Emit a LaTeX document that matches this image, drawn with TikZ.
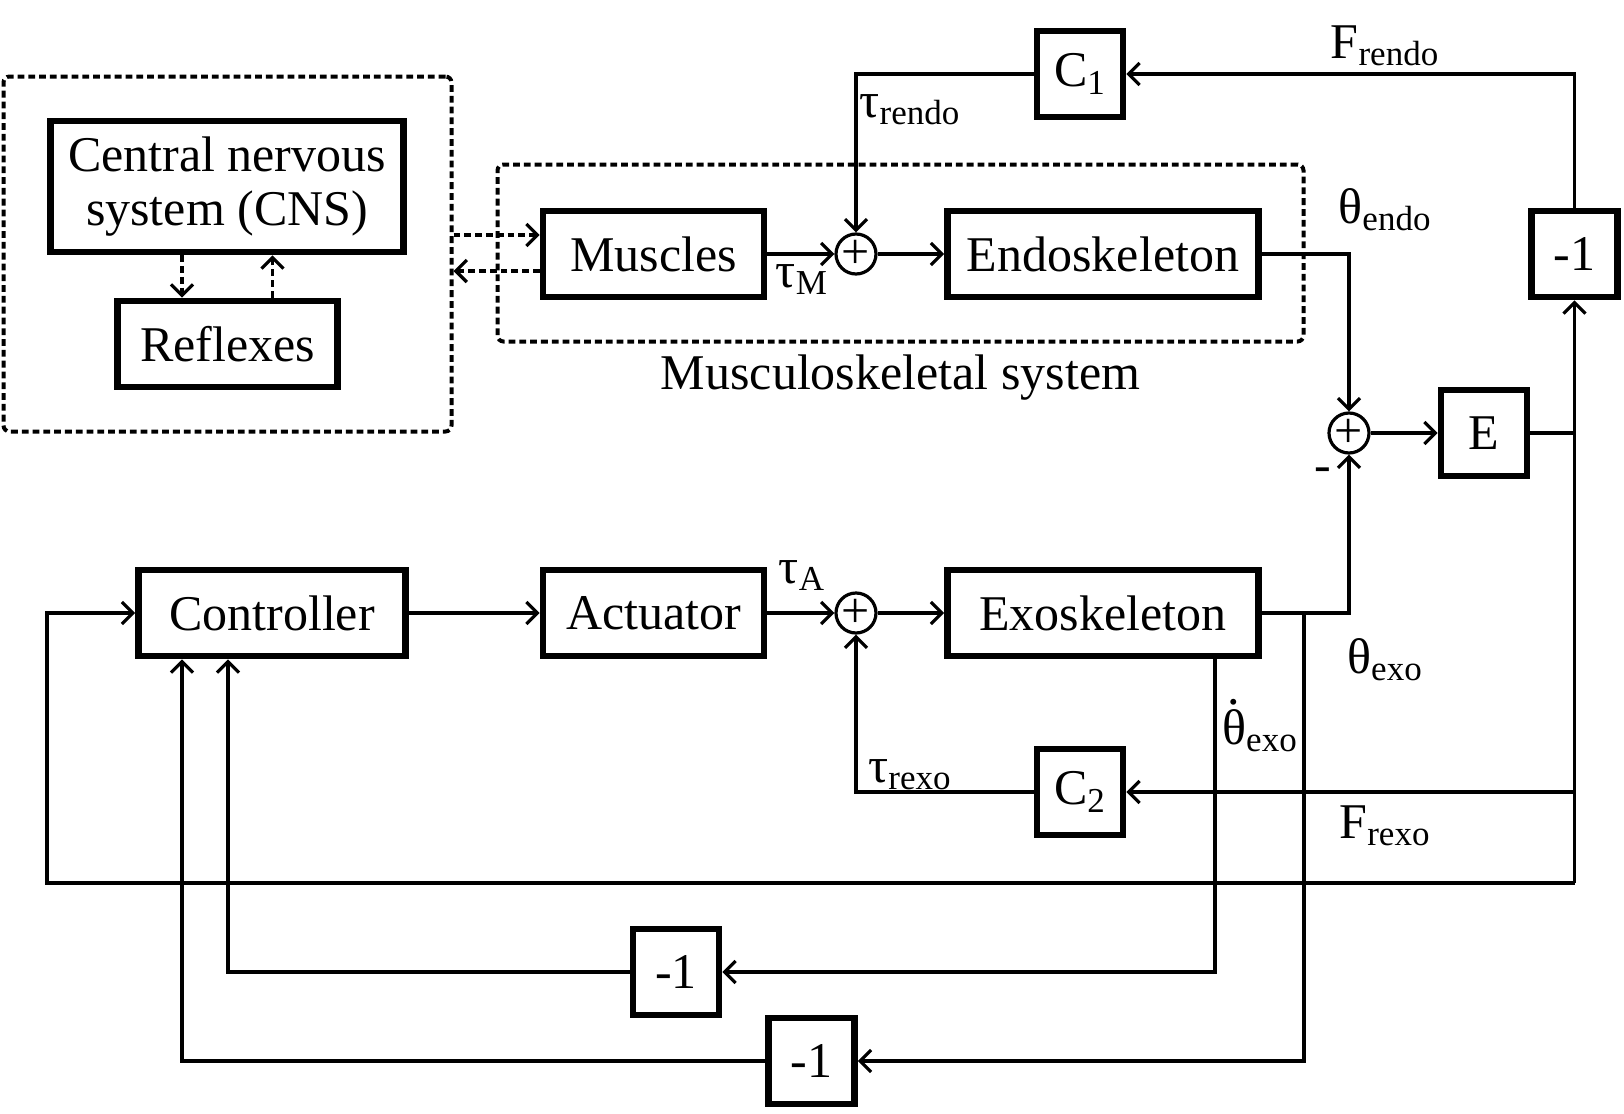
\documentclass[tikz,border=0pt]{standalone}
\usepackage{fontspec}
\setmainfont{Liberation Serif}
\usetikzlibrary{arrows.meta, positioning}
\newcommand{\blkfont}{\fontsize{25pt}{29pt}\selectfont}
\newcommand{\thdot}{\ooalign{θ\cr\hidewidth\raisebox{0.8em}{.}\hidewidth\cr}}
\tikzset{
  blk/.style={draw, line width=3.3pt, minimum height=43pt, inner sep=0pt, align=center},
  gain/.style={blk, minimum width=43pt},
  sumpt/.style={circle, draw, line width=1.6pt, minimum size=20pt, inner sep=0pt},
  grp/.style={draw, line width=2pt, dash pattern=on 3.4pt off 2pt, rounded corners=3pt},
  sig/.style={line width=1.6pt},
  flow/.style={sig, -{Straight Barb[length=5.5pt, width=11pt]}},
  dflow/.style={flow, dash pattern=on 3.4pt off 2pt},
  lbl/.style={inner sep=0pt, anchor=base},
}

\begin{document}
\begin{tikzpicture}[x=0.5pt, y=-0.5pt, font=\blkfont]
\useasboundingbox (0,0) rectangle (1624,1114);
\node[grp, minimum width=224pt, minimum height=177.5pt] (cnsgrp) at (227.5,254) {};
\node[grp, minimum width=403pt, minimum height=88.5pt] (msgrp) at (900.5,253) {};
\node[inner sep=0pt, below=5.5pt of msgrp] (mslbl) {Musculoskeletal system};
\node[blk, minimum width=176.5pt, minimum height=65.5pt] (cns) at (227,186.5) {\raisebox{-2pt}{Central nervous}\\system (CNS)};
\node[blk, minimum width=110pt] (refl) at (227.5,344) {Reflexes};
\node[blk, minimum width=110.5pt] (musc) at (653.5,254) {Muscles};
\node[sumpt] (s1) at (856,254) {+};
\node[blk, minimum width=155.5pt] (endo) at (1103,254) {Endoskeleton};
\node[gain] (c1) at (1080,74) {C\textsubscript{1}};
\node[gain] (m1) at (1574.5,254) {-1};
\node[sumpt] (s2) at (1349,433) {+};
\node[gain] (e) at (1484,433) {E};
\node[blk, minimum width=133.5pt] (ctrl) at (272,613) {Controller};
\node[blk, minimum width=110.5pt] (act) at (653.5,613) {Actuator};
\node[sumpt] (s3) at (856,613) {+};
\node[blk, minimum width=155.5pt] (exo) at (1103,613) {Exoskeleton};
\node[gain] (c2) at (1080,792) {C\textsubscript{2}};
\node[gain] (m2) at (676,972) {-1};
\node[gain] (m3) at (811.5,1061) {-1};
\coordinate (tap) at (1304,613);
\coordinate (busr) at (1574.5,883);
\coordinate (busl) at (47,883);
\coordinate (din) at ([yshift=9.5pt]musc.west);
\coordinate (dout) at ([yshift=-8.5pt]musc.west);
\draw[dflow] ([xshift=-22.5pt]cns.south) -- ([xshift=-22.5pt]cns.south |- refl.north);
\draw[dflow] ([xshift=22.5pt]refl.north) -- ([xshift=22.5pt]refl.north |- cns.south);
\draw[dflow] (din -| cnsgrp.east) -- (din);
\draw[dflow] (dout) -- (dout -| cnsgrp.east);
\draw[flow] (musc) -- (s1);
\draw[flow] (s1) -- (endo);
\draw[flow] (c1.west) -| (s1.north);
\draw[flow] (m1.north) |- (c1.east);
\draw[flow] (endo.east) -| (s2.north);
\draw[flow] (s2) -- (e);
\draw[flow] (e.east) -| (m1.south);
\draw[sig] (e.east -| m1.south) -- (busr);
\draw[flow] (busr) -- (busl) |- (ctrl.west);
\draw[flow] (ctrl) -- (act);
\draw[flow] (act) -- (s3);
\draw[flow] (s3) -- (exo);
\draw[flow] (exo.east) -| (s2.south);
\draw[flow] (c2.east -| busr) -- (c2.east);
\draw[flow] (c2.west) -| (s3.south);
\draw[flow] (tap) |- (m3.east);
\draw[flow] (m3.west) -| ([xshift=-45pt]ctrl.south);
\draw[flow] ([xshift=56pt]exo.south) |- (m2.east);
\draw[flow] (m2.west) -| ([xshift=-22pt]ctrl.south);
\foreach \p in {(1215,792), (1304,792), (1215,883), (1304,883), (182,883), (228,883)}
  \fill \p circle (1.4pt);
\node[lbl] at (910,117) {τ\textsubscript{rendo}};
\node[lbl] at (802,287) {τ\textsubscript{M}};
\node[lbl] at (1385,58) {F\textsubscript{rendo}};
\node[lbl] at (1385,223) {θ\textsubscript{endo}};
\node[lbl] at (1323,481) {-};
\node[lbl] at (802,583) {τ\textsubscript{A}};
\node[lbl] at (1385,673) {θ\textsubscript{exo}};
\node[lbl] at (1260,744) {\thdot\textsubscript{exo}};
\node[lbl] at (910,782) {τ\textsubscript{rexo}};
\node[lbl] at (1385,838) {F\textsubscript{rexo}};
\end{tikzpicture}
\end{document}
